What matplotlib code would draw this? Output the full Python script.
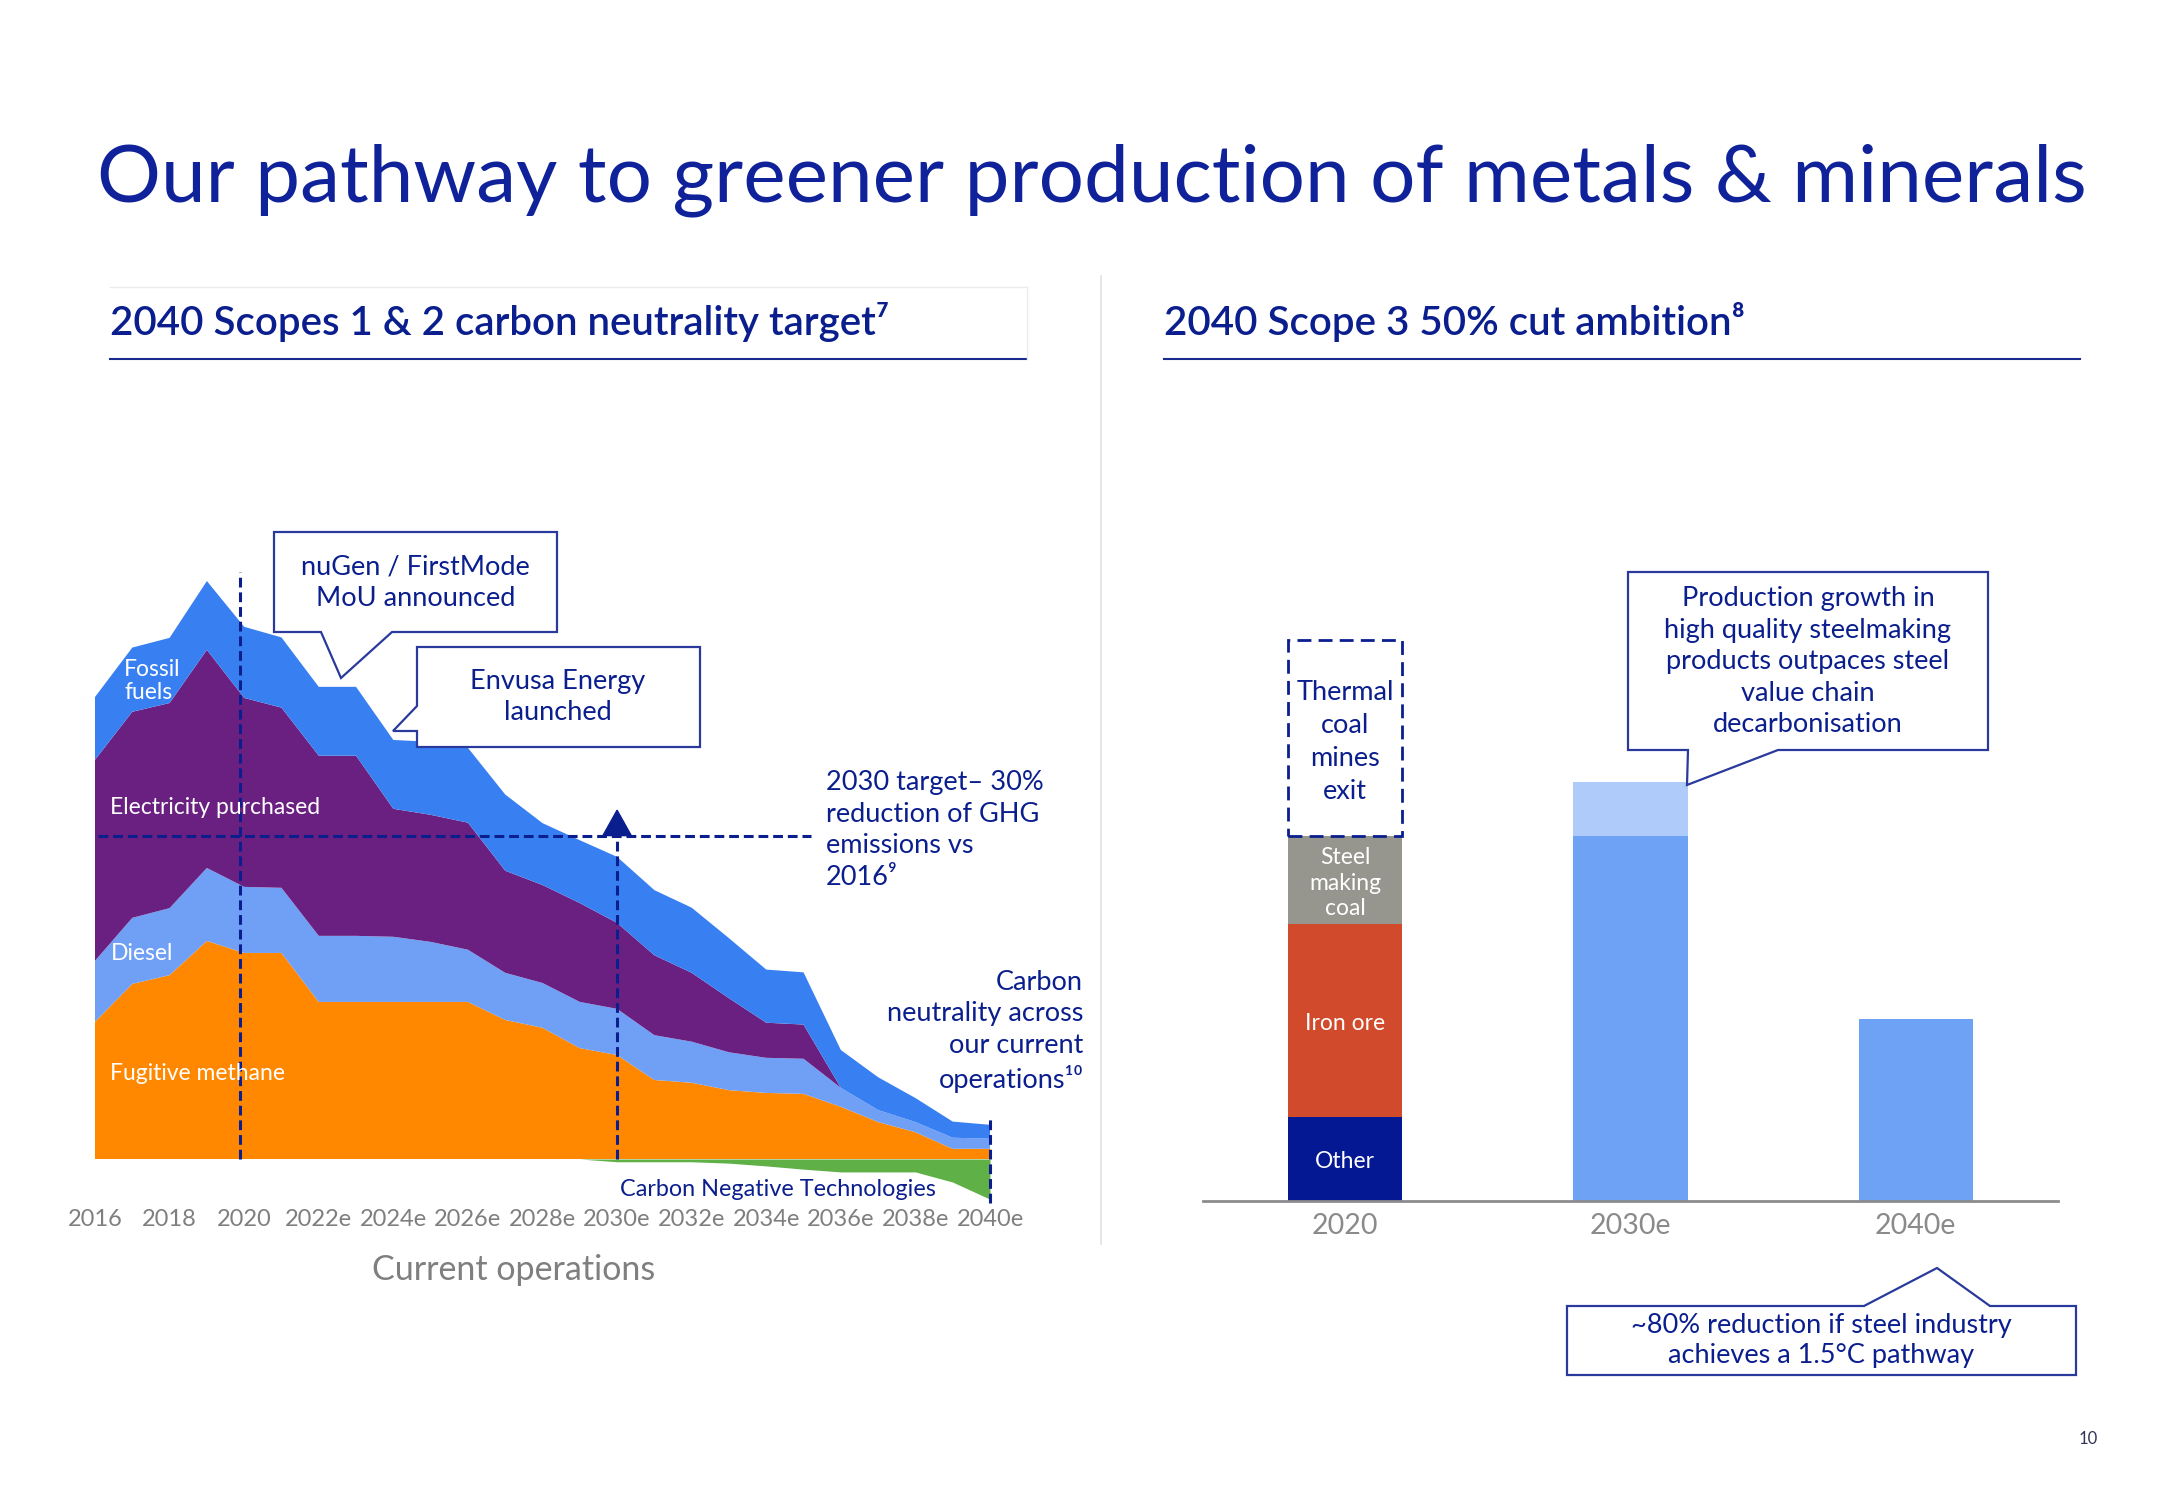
import matplotlib.pyplot as plt
from matplotlib.patches import Polygon, Rectangle

# ---- data: Scopes 1 & 2 emissions, index (2016 total = 100) ----
years = list(range(2016, 2041))
fugitive_methane = [29.7, 37.9, 39.8, 47.2, 44.6, 44.6, 34.0, 34.0, 34.0, 34.0, 34.0, 30.1, 28.4,
                    24.0, 22.5, 17.1, 16.5, 14.9, 14.3, 14.1, 11.3, 8.0, 5.8, 2.2, 2.2]
diesel = [13.2, 14.3, 14.5, 15.8, 14.3, 14.1, 14.3, 14.3, 14.1, 13.0, 11.3, 10.2, 9.7,
          10.0, 10.0, 9.7, 8.9, 8.2, 7.6, 7.6, 4.1, 2.6, 2.2, 2.4, 2.2]
electricity = [43.5, 44.6, 44.4, 47.2, 40.9, 39.0, 39.0, 39.0, 27.7, 27.5, 27.5, 22.1, 21.2,
               21.4, 18.6, 17.3, 14.9, 11.7, 7.6, 7.4, 0, 0, 0, 0, 0]
fossil_fuels = [13.6, 13.9, 14.1, 14.9, 15.4, 15.2, 14.9, 14.9, 14.9, 15.8, 16.2, 16.5, 13.4,
                13.6, 14.3, 14.1, 14.1, 13.0, 11.5, 11.3, 8.2, 7.1, 5.2, 3.5, 3.0]
carbon_negative = [0] * 14 + [-0.6, -0.6, -0.6, -0.9, -1.5, -2.2, -2.8, -2.8, -2.8, -5.0, -8.7]
target_2030 = 70
tick_years = years[::2]
tick_labels = ['2016', '2018', '2020'] + [f'{y}e' for y in range(2022, 2041, 2)]

# ---- data: Scope 3, index (2020 excl. thermal coal = 100) ----
s3_categories = ['2020', '2030e', '2040e']
s3_2020_segments = ['Other', 'Iron ore', 'Steel\nmaking\ncoal']
s3_2020_values = [23.0, 52.8, 24.2]
thermal_coal_exit = 53.7
s3_future_values = [100.0, 49.8]
s3_growth_2030 = 14.9

W, H = 2167, 1500
plt.rcParams['font.family'] = ['Lato', 'DejaVu Sans']

NAVY = '#0b1e8e'
EDGE = '#2a3a9c'
GRAY = '#7f7f7f'
FOSSIL = '#3880f2'
ELEC = '#6a2080'
DIESEL = '#6fa0f6'
METHANE = '#ff8800'
GREEN = '#5fb046'
OTHER = '#041893'
IRON = '#d14a2b'
COAL = '#96968e'
BAR = '#6ea2f5'
BAR_LIGHT = '#aecbf9'
NOTE = 19.5  # annotation font size
LS = 1.33

fig = plt.figure(figsize=(W / 100, H / 100), dpi=100)


def fx(x):
    return x / W


def fy(y):
    return 1 - y / H


def rect_px(left, top, right, bottom):
    return [fx(left), fy(bottom), fx(right) - fx(left), fy(top) - fy(bottom)]


def ftext(x, y, s, **kw):
    fig.text(fx(x), fy(y), s, **kw)


def callout(pts):
    fig.add_artist(Polygon([(fx(x), fy(y)) for x, y in pts], closed=True, transform=fig.transFigure,
                           facecolor='white', edgecolor=EDGE, lw=1.6, zorder=5))


def hline_px(x0, x1, y, color, lw):
    fig.add_artist(plt.Line2D([fx(x0), fx(x1)], [fy(y), fy(y)], color=color, lw=lw, transform=fig.transFigure))


# ---- headers ----
ftext(97, 180, 'Our pathway to greener production of metals & minerals', fontsize=57.6,
      fontweight='normal', color='#10229a', va='center', ha='left')
ftext(110, 322, '2040 Scopes 1 & 2 carbon neutrality target\u2077', fontsize=29, fontweight='semibold',
      color=NAVY, va='center')
ftext(1164, 322, '2040 Scope 3 50% cut ambition\u2078', fontsize=29, fontweight='semibold',
      color=NAVY, va='center')
hline_px(110, 1027, 359, '#1b2a8f', 1.5)
hline_px(1164, 2080, 359, '#1b2a8f', 1.5)
hline_px(110, 1027, 287, '#ececec', 1.0)
fig.add_artist(plt.Line2D([fx(1027), fx(1027)], [fy(287), fy(359)], color='#ececec', lw=1.0,
                          transform=fig.transFigure))
fig.add_artist(plt.Line2D([fx(1101), fx(1101)], [fy(276), fy(1244)], color='#e2e2e2', lw=1.2,
                          transform=fig.transFigure))
ftext(2088, 1439, '10', fontsize=12, color='#333355', ha='center', va='center')

# ---- left chart ----
ax = fig.add_axes(rect_px(95, 1159 - 130 * 4.62, 990, 1159 + 10 * 4.62))
ax.stackplot(years, fugitive_methane, diesel, electricity, fossil_fuels,
             colors=[METHANE, DIESEL, ELEC, FOSSIL], lw=0)
ax.fill_between(years, carbon_negative, 0, color=GREEN, lw=0)
ax.set_xlim(2016, 2040)
ax.set_ylim(-10, 130)
ax.set_xticks(tick_years, tick_labels)
ax.set_yticks([])
ax.tick_params(axis='x', length=0, pad=3, labelsize=17, labelcolor=GRAY)
for s in ax.spines.values():
    s.set_visible(False)

dash = (0, (3.2, 1.6))
ax.plot([2019.9, 2019.9], [0, 127], color=NAVY, lw=2.2, ls=dash, clip_on=False)
ax.plot([2016.08, 2035.2], [target_2030, target_2030], color=NAVY, lw=2.2, ls=dash, clip_on=False)
ax.plot([2030, 2030], [0, target_2030], color=NAVY, lw=2.2, ls=dash, clip_on=False)
ax.plot([2040, 2040], [-9.5, 9], color=NAVY, lw=2.2, ls=dash, clip_on=False)
ax.add_patch(Polygon([(2029.62, target_2030), (2030.38, target_2030), (2030, target_2030 + 5.5)],
                     closed=True, color=NAVY, clip_on=False))

lab = dict(color='white', fontsize=16.5, va='center', ha='left')
ax.text(2016.78, 103.5, 'Fossil\nfuels', linespacing=1.1, **lab)
ax.text(2016.4, 76, 'Electricity purchased', **lab)
ax.text(2016.43, 44.5, 'Diesel', **lab)
ax.text(2016.4, 18.5, 'Fugitive methane', **lab)

ax.text(2035.6, 71.2, '2030 target\u2013 30%\nreduction of GHG\nemissions vs\n2016\u2079', fontsize=NOTE,
        color=NAVY, ha='left', va='center', linespacing=LS, clip_on=False)
ax.text(2042.5, 27.6, 'Carbon\nneutrality across\nour current\noperations\u00b9\u2070', fontsize=NOTE,
        color=NAVY, ha='right', va='center', multialignment='right', linespacing=LS, clip_on=False)
ax.text(2034.3, -6.7, 'Carbon Negative Technologies', fontsize=16.8, color=NAVY, ha='center', va='center')

ftext(514, 1270, 'Current operations', fontsize=24.5, color=GRAY, ha='center', va='center')

callout([(274, 532), (557, 532), (557, 632), (392, 632), (341, 678), (321, 632), (274, 632)])
ftext(415.5, 583, 'nuGen / FirstMode\nMoU announced', fontsize=NOTE, color=NAVY, ha='center',
      va='center', linespacing=LS, zorder=6)
callout([(417, 647), (700, 647), (700, 747), (417, 747), (417, 731), (393, 731), (417, 706)])
ftext(558, 697, 'Envusa Energy\nlaunched', fontsize=NOTE, color=NAVY, ha='center', va='center',
      linespacing=LS, zorder=6)

# ---- right chart ----
ax2 = fig.add_axes(rect_px(1202.5, 1201 - 170 * 3.65, 2058.4, 1201))
bw = 0.4
bottom = 0
for name, val, col in zip(s3_2020_segments, s3_2020_values, [OTHER, IRON, COAL]):
    ax2.bar(0, val, bw, bottom=bottom, color=col, lw=0)
    ax2.text(0, bottom + val / 2 - 0.8, name, color='white', fontsize=16.5, ha='center', va='center',
             linespacing=1.28)
    bottom += val
ax2.add_patch(Rectangle((-bw / 2, bottom), bw, thermal_coal_exit, fill=False, ec=NAVY, lw=2,
                        ls=(0, (5, 2.6))))
ax2.text(0, bottom + thermal_coal_exit / 2 - 1.2, 'Thermal\ncoal\nmines\nexit', color=NAVY, fontsize=NOTE,
         ha='center', va='center', linespacing=1.4)
ax2.bar([1, 2], s3_future_values, bw, color=BAR, lw=0)
ax2.bar(1, s3_growth_2030, bw, bottom=s3_future_values[0], color=BAR_LIGHT, lw=0)
ax2.set_xlim(-0.5, 2.5)
ax2.set_ylim(0, 170)
ax2.set_xticks(range(len(s3_categories)), s3_categories)
ax2.set_yticks([])
ax2.tick_params(axis='x', length=0, pad=9, labelsize=20.5, labelcolor='#8a8a8a')
for k in ['top', 'left', 'right']:
    ax2.spines[k].set_visible(False)
ax2.spines['bottom'].set_color('#8c8c8c')
ax2.spines['bottom'].set_linewidth(2)

callout([(1628, 572), (1988, 572), (1988, 750), (1778, 750), (1687, 785), (1688, 750), (1628, 750)])
ftext(1808, 661.7, 'Production growth in\nhigh quality steelmaking\nproducts outpaces steel\nvalue chain\n'
      'decarbonisation', fontsize=NOTE, color=NAVY, ha='center', va='center', linespacing=LS, zorder=6)
callout([(1567, 1306), (1864, 1306), (1937, 1268), (1990, 1306), (2076, 1306), (2076, 1375), (1567, 1375)])
ftext(1821, 1340, '~80% reduction if steel industry\nachieves a 1.5\u00b0C pathway', fontsize=NOTE,
      color=NAVY, ha='center', va='center', linespacing=1.25, zorder=6)

fig.savefig('out.png', dpi=100)
